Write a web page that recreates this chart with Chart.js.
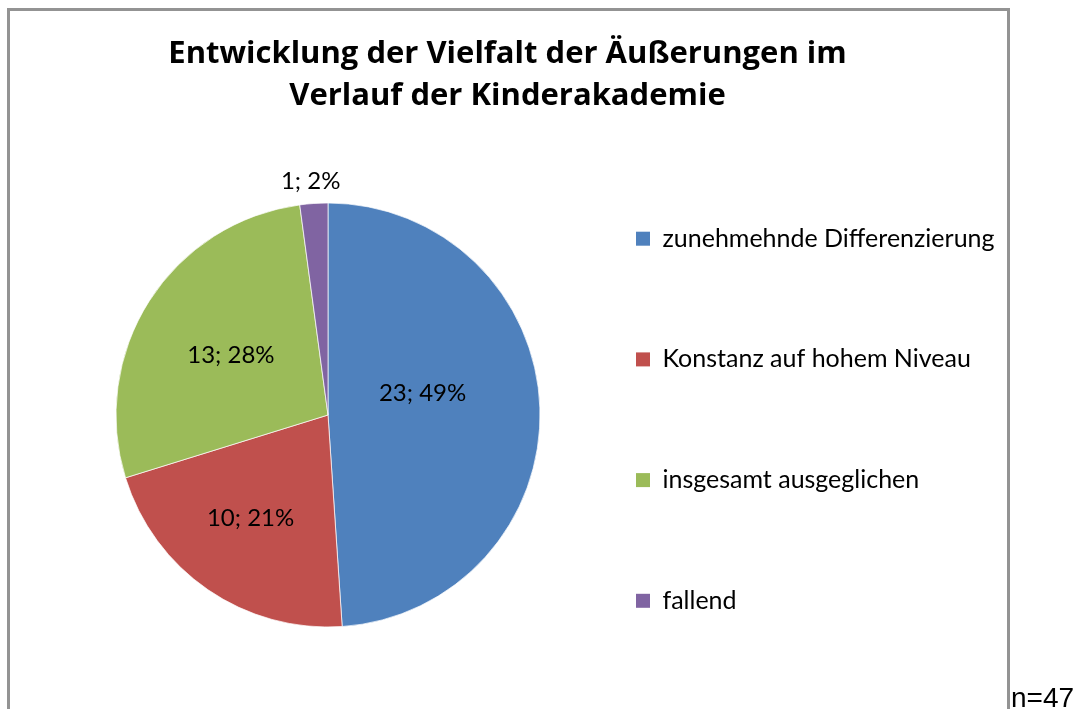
<!DOCTYPE html>
<html>
<head>
<meta charset="utf-8">
<script src="https://cdn.jsdelivr.net/npm/chart.js@4.4.1/dist/chart.umd.min.js"></script>
<style>
  html, body { margin: 0; padding: 0; background: #ffffff; overflow: hidden; }
  body { width: 1076px; height: 709px; position: relative; }
  #frame { position: absolute; left: 7px; top: 8px; width: 997px; height: 760px; border: 3px solid #939393; }
  #chart { position: absolute; left: 0; top: 0; }
  #note { position: absolute; left: 1011px; top: 684px; font-family: "Liberation Sans", Arial, sans-serif; font-size: 28px; line-height: 28px; color: #000; white-space: nowrap; }
</style>
</head>
<body>
<div id="frame"></div>
<canvas id="chart" width="1076" height="709"></canvas>
<div id="note">n=47</div>
<script>
// ---- data ----
const titleLines = ['Entwicklung der Vielfalt der Äußerungen im', 'Verlauf der Kinderakademie'];
const categories = ['zunehmehnde Differenzierung', 'Konstanz auf hohem Niveau', 'insgesamt ausgeglichen', 'fallend'];
const counts = [23, 10, 13, 1];

// ---- styles ----
const sliceColors = ['#4F81BD', '#C0504D', '#9BBB59', '#8064A2'];
const labelRadii = [0.458, 0.61, 0.538, 1.107];      // fraction of radius
const labelAngleOffsets = [-11.2, 2.3, -0.9, -0.4];  // degrees

const total = counts.reduce((a, b) => a + b, 0);

const sliceLabels = {
  id: 'sliceLabels',
  afterDatasetsDraw(chart, args, opts) {
    const ctx = chart.ctx;
    const meta = chart.getDatasetMeta(0);
    ctx.save();
    ctx.font = opts.font;
    ctx.fillStyle = opts.color;
    ctx.textAlign = 'center';
    ctx.textBaseline = 'middle';
    meta.data.forEach((arc, i) => {
      const p = arc.getProps(['x', 'y', 'startAngle', 'endAngle', 'outerRadius'], true);
      const mid = (p.startAngle + p.endAngle) / 2 + opts.angleOffsets[i] * Math.PI / 180;
      const r = p.outerRadius * opts.radii[i];
      const v = counts[i];
      const pct = Math.round(v / total * 100);
      ctx.fillText(v + '; ' + pct + '%', p.x + Math.cos(mid) * r, p.y + Math.sin(mid) * r);
    });
    ctx.restore();
  }
};

// let the legend draw its long labels past its reserved box (avoid clipping)
const legendWiden = {
  id: 'legendWiden',
  afterLayout(chart) {
    const lg = chart.legend;
    if (lg) {
      lg.right = chart.width;
      lg.width = lg.right - lg.left;
    }
  }
};

new Chart(document.getElementById('chart'), {
  type: 'pie',
  data: {
    labels: categories,
    datasets: [{
      data: counts,
      backgroundColor: sliceColors,
      borderColor: 'rgba(255,255,255,0.7)',
      borderWidth: 1
    }]
  },
  options: {
    responsive: false,
    animation: false,
    events: [],
    radius: 212,
    layout: { padding: { left: 80, right: 141, top: 0, bottom: 0 } },
    plugins: {
      title: {
        display: true,
        text: titleLines,
        color: '#000',
        font: { family: 'Open Sans', weight: 'bold', size: 31, lineHeight: 42 / 31 },
        padding: { top: 33.3, bottom: 3.7 }
      },
      legend: {
        display: true,
        position: 'right',
        align: 'end',
        maxWidth: 359,
        labels: {
          padding: 60,
          boxWidth: 14,
          boxHeight: 14,
          color: '#000',
          font: { family: 'Lato', size: 25, lineHeight: 60.7 / 25 },
          generateLabels: (chart) => categories.map((c, i) => ({
            text: [c],
            fillStyle: sliceColors[i],
            strokeStyle: sliceColors[i],
            lineWidth: 0,
            hidden: false,
            index: i,
            fontColor: '#000'
          }))
        }
      },
      tooltip: { enabled: false },
      sliceLabels: {
        font: '24px Lato',
        color: '#000',
        radii: labelRadii,
        angleOffsets: labelAngleOffsets
      }
    }
  },
  plugins: [sliceLabels, legendWiden]
});
</script>
</body>
</html>
